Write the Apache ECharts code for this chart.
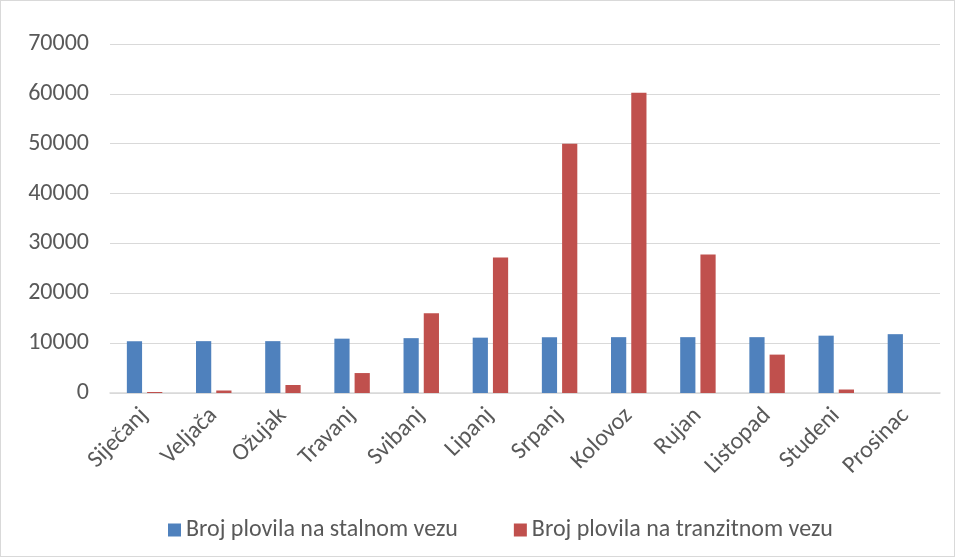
<!DOCTYPE html>
<html><head><meta charset="utf-8">
<script src="https://cdn.jsdelivr.net/npm/echarts@6/dist/echarts.min.js"></script>
<style>html,body{margin:0;padding:0;background:#fff}#c{width:955px;height:557px;box-sizing:border-box;border:1px solid #d9d9d9}</style>
</head><body><div id="c"></div>
<script>
const categories = ['Siječanj','Veljača','Ožujak','Travanj','Svibanj','Lipanj','Srpanj','Kolovoz','Rujan','Listopad','Studeni','Prosinac'];
const stalni = [10400,10400,10400,10900,11000,11100,11200,11200,11200,11200,11500,11800];
const tranzitni = [200,500,1600,4000,16000,27200,50000,60200,27800,7700,700,0];
const seriesNames = ['Broj plovila na stalnom vezu','Broj plovila na tranzitnom vezu'];
const yTicks = {min:0,max:70000,interval:10000};

const chart = echarts.init(document.getElementById('c'));
const font = 'Calibri, Carlito, "Open Sans", "Noto Sans", sans-serif';
chart.setOption({
  animation:false,
  textStyle:{fontFamily:font},
  grid:{left:109,right:14,top:43,bottom:163,containLabel:false},
  legend:{top:512,left:162,itemWidth:13,itemHeight:13,itemGap:56,icon:'rect',
    textStyle:{fontSize:24,color:'#595959',fontFamily:font},data:seriesNames},
  xAxis:{type:'category',data:categories,
    axisLine:{lineStyle:{color:'#d9d9d9',width:1.5}},axisTick:{show:false},
    axisLabel:{rotate:45,fontSize:24,color:'#595959',margin:19,interval:0,fontFamily:font}},
  yAxis:{type:'value',min:yTicks.min,max:yTicks.max,interval:yTicks.interval,
    axisLine:{show:false},axisTick:{show:false},
    splitLine:{lineStyle:{color:'#d9d9d9',width:1}},
    axisLabel:{fontSize:24,color:'#595959',margin:21,fontFamily:font,formatter:v=>String(v)}},
  series:[
    {name:seriesNames[0],type:'bar',data:stalni,barWidth:'22%',barGap:'33%',itemStyle:{color:'#4f81bd'}},
    {name:seriesNames[1],type:'bar',data:tranzitni,barWidth:'22%',itemStyle:{color:'#c0504d'}}
  ]
});
</script></body></html>
